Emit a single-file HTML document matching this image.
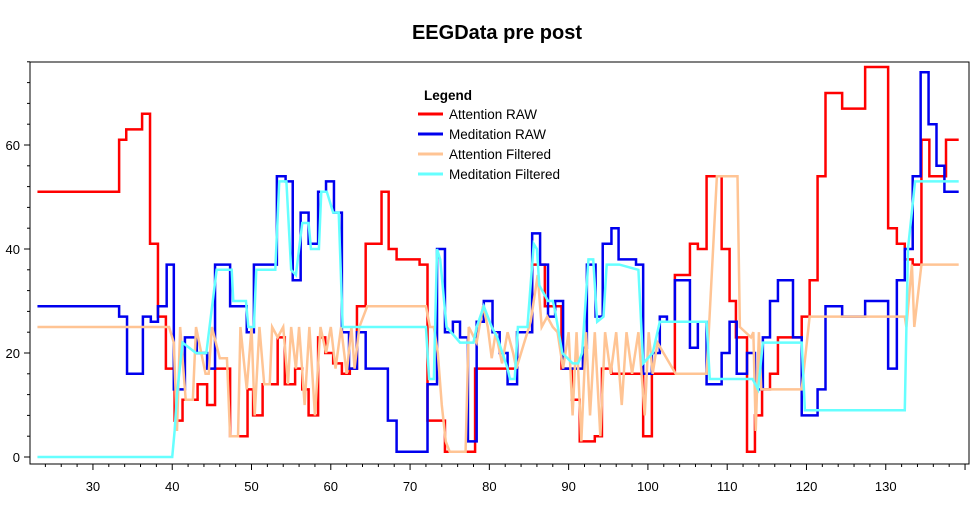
<!DOCTYPE html>
<html><head><meta charset="utf-8"><style>
body{margin:0;background:#fff;font-family:"Liberation Sans",sans-serif}
svg text{font-family:"Liberation Sans",sans-serif}
</style></head><body>
<svg id="chart" width="979" height="500" xmlns="http://www.w3.org/2000/svg">
<text x="497" y="39" text-anchor="middle" font-size="20" font-weight="bold">EEGData pre post</text>
<rect x="30" y="62" width="939" height="402" fill="none" stroke="#000" stroke-width="1"/>
<g id="axes"></g>
<g id="series"></g>
<g>
<text x="424" y="100" font-size="13.5" font-weight="bold">Legend</text>
<line x1="418" y1="114" x2="443" y2="114" stroke="#ff0000" stroke-width="3"/>
<text x="449" y="119" font-size="13.5">Attention RAW</text>
<line x1="418" y1="134" x2="443" y2="134" stroke="#0000ee" stroke-width="3"/>
<text x="449" y="139" font-size="13.5">Meditation RAW</text>
<line x1="418" y1="154" x2="443" y2="154" stroke="#ffc494" stroke-width="3"/>
<text x="449" y="159" font-size="13.5">Attention Filtered</text>
<line x1="418" y1="174" x2="443" y2="174" stroke="#66ffff" stroke-width="3"/>
<text x="449" y="179" font-size="13.5">Meditation Filtered</text>
</g>
</svg>
<script>
const xTicks=[30,40,50,60,70,80,90,100,110,120,130];
const yTicks=[0,20,40,60];
const attRawX=[23,33.3,34.2,36.2,37.2,38.2,39.2,40.3,41.3,43.2,44.4,45.4,47.3,49.5,50.2,51.4,53.3,54.2,55.5,56.4,57.2,58.4,59.3,60.3,61.4,62.4,63.3,64.4,66.4,67.3,68.3,71.2,72.2,74.4,78.2,80.4,83.5,85.4,87.0,89.1,90.4,91.4,93.3,94.2,95.4,99.4,100.5,103.4,105.3,106.3,107.4,109.3,110.3,111.1,112.5,113.5,114.4,115.4,116.4,119.4,120.4,121.4,122.4,124.5,127.4,130.3,131.4,132.4,133.4,134.5,135.5,137.6];
const attRawY=[51,61,63,66,41,27,17,7,11,14,10,17,4,13,8,14,23,14,17,13,8,23,20,18,16,17,29,41,51,40,38,37,7,1,17,17,24,37,29,17,11,3,4,17,16,4,16,35,41,40,54,40,30,23,1,8,13,16,23,27,34,54,70,67,75,44,41,38,37,61,54,61];
const medRawX=[23,33.3,34.3,36.3,37.3,38.2,39.3,40.2,41.6,43.1,44.4,45.4,47.3,49.4,50.3,53.2,54.3,55.2,56.2,57.2,58.4,59.4,60.4,61.4,62.3,63.3,64.4,67.2,68.3,72.2,73.4,74.4,75.4,76.3,77.3,78.4,79.3,80.4,81.3,82.3,83.5,85.4,86.4,87.4,88.3,89.3,91.8,92.3,93.4,94.3,95.4,96.3,98.5,99.4,100.5,101.5,102.4,103.4,105.3,106.3,107.4,109.3,110.3,111.2,112.5,113.5,114.5,115.4,116.4,118.3,119.4,121.4,122.4,124.5,127.4,130.3,131.4,132.4,133.4,134.4,135.4,136.4,137.4];
const medRawY=[29,27,16,27,26,29,37,13,23,20,17,37,29,24,37,54,53,34,47,41,51,53,47,24,17,24,17,7,1,14,40,24,26,23,3,26,30,24,20,14,24,43,37,27,30,17,21,37,27,41,44,38,37,16,20,27,26,34,21,26,14,20,26,16,20,13,23,30,34,23,8,13,29,27,30,17,34,40,54,74,64,56,51];
const attFiltX=[23,39.6,40.2,40.6,41.0,41.7,42.6,43.0,44.2,44.6,45.0,46.0,46.9,47.3,48.3,48.6,49.4,50.0,50.4,51.0,51.6,52.3,52.6,53.3,54.0,54.6,55.0,55.6,56.0,56.7,57.3,58.0,58.7,59.4,60.0,60.6,61.3,62.0,62.6,63.0,63.6,64.6,72.0,72.5,73.0,73.5,74.0,74.5,75.0,77.0,77.4,78.4,79.2,79.8,80.3,80.8,81.6,82.3,83.0,83.4,84.0,85.2,86.1,86.6,87.3,88.0,88.6,89.3,90.0,90.5,91.0,91.6,92.2,92.7,93.3,94.0,94.6,95.3,96.0,96.7,97.3,98.0,98.8,99.6,100.1,100.6,101.2,103.5,107.4,108.7,111.3,111.6,113.0,113.3,113.6,114.0,114.3,119.4,120.4,132.4,132.6,133.3,133.6,134.5,139.2];
const attFiltY=[25,25,22,5,25,11,11,25,16,16,25,19,19,4,4,25,13,25,8,25,14,14,25,23,25,14,25,17,25,10,25,8,25,20,25,17,25,16,25,17,25,29,29,25,25,20,10,3,1,1,25,22,29,25,19,24,18,24,20,17,20,26,35,25,27,25,24,17,24,8,24,3,24,8,24,4,24,16,24,10,24,16,24,8,24,16,22,16,16,54,54,25,23,24,5,24,13,13,27,27,25,37,25,37,37];
const medFiltX=[23,40.0,40.3,40.6,41.3,43.0,44.3,45.6,47.5,47.7,49.3,49.6,50.3,50.6,53.0,53.5,54.4,55.0,55.6,56.4,57.2,57.5,58.5,58.8,59.5,60.3,61.0,61.5,72.0,72.4,73.0,73.4,73.8,74.6,76.3,78.0,78.4,79.3,80.3,81.0,82.3,82.6,83.2,83.6,84.8,85.6,86.0,86.3,87.4,88.0,88.3,89.2,90.5,91.2,91.7,92.5,93.1,93.6,94.4,94.8,96.4,98.8,99.4,100.6,101.5,107.4,107.8,113.2,113.9,114.5,119.4,119.8,132.4,132.8,133.7,139.2];
const medFiltY=[0,0,5,12,22,20,20,36,36,30,30,25,25,36,36,53,53,36,35,45,45,40,40,51,51,47,47,25,25,15,15,40,38,25,22,22,25,29,25,23,17,15,15,25,25,41,40,33,30,30,28,20,18,18,20,38,38,26,27,37,37,36,18,20,26,26,15,15,13,22,22,9,9,40,53,53];

const X0=22.06,X1=140.5,PX0=30,PX1=969,PY0=457,SY=5.2;
const xs=v=>PX0+(v-X0)/(X1-X0)*(PX1-PX0);
const ys=v=>PY0-v*SY;
const NS='http://www.w3.org/2000/svg';
const axes=document.getElementById('axes');
function mk(tag,attrs,parent){const e=document.createElementNS(NS,tag);for(const k in attrs)e.setAttribute(k,attrs[k]);parent.appendChild(e);return e;}
for(let v=24;v<=140;v+=2){
  const major=v%10===0;
  const t=mk('line',{x1:xs(v),x2:xs(v),y1:464,y2:major?470:467,stroke:'#000','stroke-width':1},axes);
  
  
}
xTicks.forEach(v=>{
  const t=mk('text',{x:xs(v),y:491,'text-anchor':'middle','font-size':13},axes);
  t.textContent=v;
  
  
});
for(let v=0;v<=76;v+=4){
  const major=v%20===0;
  const t=mk('line',{x1:major?24:27,x2:30,y1:ys(v),y2:ys(v),stroke:'#000','stroke-width':1},axes);
  
  
}
yTicks.forEach(v=>{
  const t=mk('text',{x:20,y:ys(v)+5,'text-anchor':'end','font-size':13},axes);
  t.textContent=v;
  
  
});
const ser=document.getElementById('series');
function stepPath(X,Y,end){let d='M'+xs(X[0])+','+ys(Y[0]);for(let i=1;i<X.length;i++){d+='H'+xs(X[i])+'V'+ys(Y[i]);}d+='H'+xs(end);return d;}
function linePath(X,Y){const n=Math.min(X.length,Y.length);let d='';for(let i=0;i<n;i++){d+=(i?'L':'M')+xs(X[i])+','+ys(Y[i]);}return d;}
const p1=mk('path',{d:stepPath(attRawX,attRawY,139.2),fill:'none',stroke:'#ff0000','stroke-width':2.5},ser);


const p2=mk('path',{d:stepPath(medRawX,medRawY,139.2),fill:'none',stroke:'#0000ee','stroke-width':2.5},ser);


const p3=mk('path',{d:linePath(attFiltX,attFiltY),fill:'none',stroke:'#ffc494','stroke-width':2.5},ser);


const p4=mk('path',{d:linePath(medFiltX,medFiltY),fill:'none',stroke:'#66ffff','stroke-width':2.5},ser);


</script>
</body></html>
